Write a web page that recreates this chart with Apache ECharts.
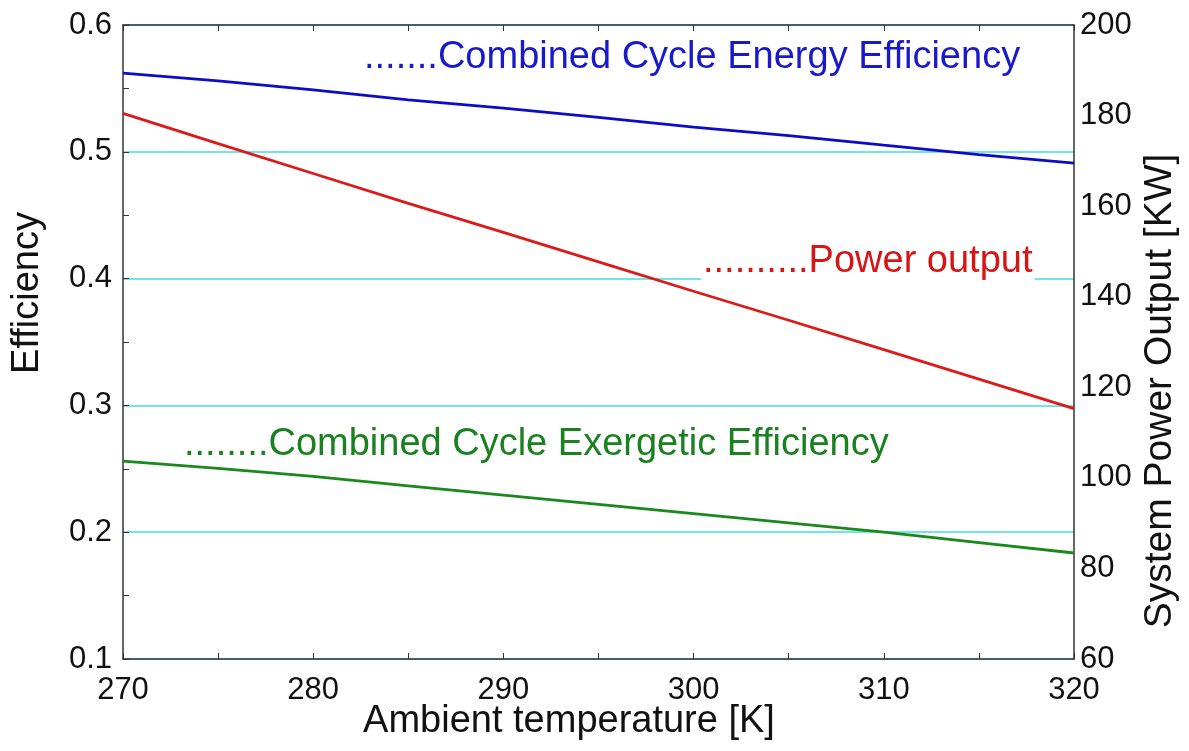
<!DOCTYPE html>
<html>
<head>
<meta charset="utf-8">
<style>
  html, body { margin: 0; padding: 0; background: #fff; }
  #chart { width: 1189px; height: 751px; }
</style>
<script src="https://cdn.jsdelivr.net/npm/echarts@6/dist/echarts.min.js"></script>
</head>
<body>
<div id="chart"></div>
<script>
// Ambient temperature [K]
const temperatures = [270, 275, 280, 285, 290, 295, 300, 305, 310, 315, 320];
// Combined cycle energy efficiency [-]
const energyEfficiency = [0.562, 0.5560, 0.5488, 0.5410, 0.5345, 0.5272, 0.5195, 0.5128, 0.5052, 0.4978, 0.4910];
// Combined cycle exergetic efficiency [-]
const exergeticEfficiency = [0.2560, 0.2503, 0.2440, 0.2365, 0.2292, 0.2219, 0.2146, 0.2073, 0.2000, 0.1918, 0.1836];
// System power output [KW]
const powerOutput = [180.5, 173.8, 167.2, 160.6, 154.2, 147.7, 141.2, 134.8, 128.3, 121.8, 115.3];

const FONT = 'Liberation Sans, Arial, sans-serif';
const pairs = (ys) => temperatures.map((t, i) => [t, ys[i]]);

const chart = echarts.init(document.getElementById('chart'), null, { renderer: 'canvas' });

const axisLine = { show: true, lineStyle: { color: '#333', width: 1.5 } };
const tickStyle = { show: true, inside: true, length: 6, lineStyle: { color: '#333', width: 1 } };
const minorTickStyle = { show: true, splitNumber: 2, length: 6, lineStyle: { color: '#333', width: 1 } };

chart.setOption({
  animation: false,
  backgroundColor: '#fff',
  grid: { left: 123, right: 115, top: 25, bottom: 92, containLabel: false },
  xAxis: [
    {
      type: 'value', position: 'bottom', min: 270, max: 320, interval: 10,
      axisLine, axisTick: tickStyle, minorTick: minorTickStyle,
      axisLabel: { color: '#111', fontFamily: FONT, fontSize: 31, margin: 16 },
      splitLine: { show: false }
    },
    {
      type: 'value', position: 'top', min: 270, max: 320, interval: 10,
      axisLine, axisTick: tickStyle, minorTick: minorTickStyle,
      axisLabel: { show: false }, splitLine: { show: false }
    }
  ],
  yAxis: [
    {
      type: 'value', position: 'left', min: 0.1, max: 0.6, interval: 0.1,
      axisLine, axisTick: tickStyle, minorTick: minorTickStyle,
      axisLabel: { color: '#111', fontFamily: FONT, fontSize: 31, margin: 11,
        formatter: (v) => v.toFixed(1) },
      splitLine: { show: true, lineStyle: { color: '#74e4e4', width: 2 } }
    },
    {
      type: 'value', position: 'right', min: 60, max: 200, interval: 20,
      axisLine, axisTick: { show: false },
      axisLabel: { color: '#111', fontFamily: FONT, fontSize: 31, margin: 6 },
      splitLine: { show: false }
    }
  ],
  series: [
    {
      name: 'Combined Cycle Energy Efficiency', type: 'line', xAxisIndex: 0, yAxisIndex: 0,
      data: pairs(energyEfficiency), showSymbol: false,
      lineStyle: { color: '#0c0cc8', width: 2.8 }, z: 5
    },
    {
      name: 'Power output', type: 'line', xAxisIndex: 0, yAxisIndex: 1,
      data: pairs(powerOutput), showSymbol: false,
      lineStyle: { color: '#dc1a1a', width: 2.8 }, z: 5
    },
    {
      name: 'Combined Cycle Exergetic Efficiency', type: 'line', xAxisIndex: 0, yAxisIndex: 0,
      data: pairs(exergeticEfficiency), showSymbol: false,
      lineStyle: { color: '#1a881a', width: 2.8 }, z: 5
    }
  ],
  graphic: [
    // axis titles
    { type: 'text', x: 569, y: 722, z: 10,
      style: { text: 'Ambient temperature [K]', fill: '#111', font: '38px ' + FONT,
        textAlign: 'center', textVerticalAlign: 'middle' } },
    { type: 'text', x: 28, y: 293, rotation: Math.PI / 2, z: 10,
      style: { text: 'Efficiency', fill: '#111', font: '38px ' + FONT,
        textAlign: 'center', textVerticalAlign: 'middle' } },
    { type: 'text', x: 1160, y: 391, rotation: Math.PI / 2, z: 10,
      style: { text: 'System Power Output [KW]', fill: '#111', font: '39px ' + FONT,
        textAlign: 'center', textVerticalAlign: 'middle' } },
    // curve annotations
    { type: 'text', x: 364, y: 58, z: 10,
      style: { text: '.......Combined Cycle Energy Efficiency', fill: '#1818cc', font: '38px ' + FONT,
        textAlign: 'left', textVerticalAlign: 'middle' } },
    { type: 'text', x: 701, y: 262, z: 10,
      style: { text: '..........Power output', fill: '#d81414', font: '38px ' + FONT,
        textAlign: 'left', textVerticalAlign: 'middle',
        backgroundColor: '#fff', padding: [2, 2, 2, 2] } },
    { type: 'text', x: 184, y: 445, z: 10,
      style: { text: '........Combined Cycle Exergetic Efficiency', fill: '#1a8020', font: '38px ' + FONT,
        textAlign: 'left', textVerticalAlign: 'middle' } }
  ]
});
</script>
</body>
</html>
